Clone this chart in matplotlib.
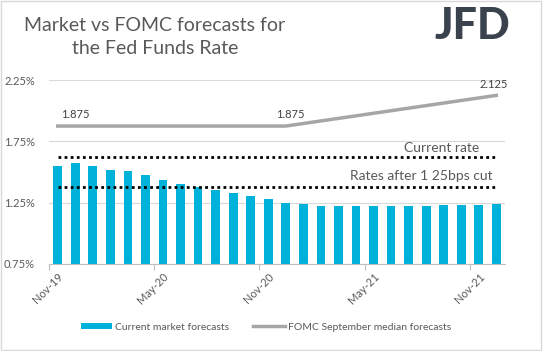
import matplotlib.pyplot as plt
import numpy as np
import pandas as pd
from matplotlib.patches import Rectangle

# Market-implied Fed Funds rate per month, Nov-19 .. Dec-21
months = pd.date_range("2019-11-01", "2021-12-01", freq="MS")
month_labels = [m.strftime("%b-%y") for m in months]
market = [1.551, 1.570, 1.551, 1.518, 1.510, 1.477, 1.436, 1.403, 1.381,
          1.354, 1.330, 1.305, 1.280, 1.250, 1.239, 1.223, 1.223, 1.223,
          1.223, 1.223, 1.223, 1.223, 1.231, 1.231, 1.231, 1.239]

# FOMC September median projections (year-end points)
fomc_idx = [0, 13, 25]
fomc_vals = [1.875, 1.875, 2.125]

current_rate = 1.625
after_cut = 1.375

BLUE = "#00B2DA"
GRAY_LINE = "#A6A6A6"
TEXT = "#595959"
GRID = "#D9D9D9"

plt.rcParams["font.family"] = ["Lato", "DejaVu Sans"]

fig = plt.figure(figsize=(5.43, 3.51), dpi=100)
fig.patches.append(Rectangle((0.002, 0.003), 0.995, 0.993, transform=fig.transFigure,
                             fill=False, edgecolor=GRID, linewidth=1.0))
ax = fig.add_axes([0.0902, 0.2479, 0.840, 0.524])

x = np.arange(len(market))
bars = ax.bar(x, market, width=0.5, color=BLUE, label="Current market forecasts", zorder=2)
line, = ax.plot(fomc_idx, fomc_vals, color=GRAY_LINE, linewidth=2.5,
                label="FOMC September median forecasts", zorder=3)
# data labels: the first one sits right of its point, like in Excel
label_dx = [13, 3, -2]
for i, v, dx in zip(fomc_idx, fomc_vals, label_dx):
    ax.annotate(f"{v:.3f}", (i, v), xytext=(dx, 4), textcoords="offset points",
                ha="center", va="bottom", fontsize=8, color="#404040", clip_on=False)

ax.hlines([current_rate, after_cut], 0, len(market) - 1, colors="black",
          linestyles=[(0, (1, 1.2))], linewidth=2, zorder=4)
ax.text(24.0, current_rate + 0.025, "Current rate", ha="right", va="bottom",
        fontsize=10, color=TEXT)
ax.text(24.8, after_cut + 0.04, "Rates after 1 25bps cut", ha="right", va="bottom",
        fontsize=10, color=TEXT)

ax.set_xlim(-0.5, len(market) - 0.5)
ax.set_ylim(0.75, 2.25)
ax.set_yticks([0.75, 1.25, 1.75, 2.25])
ax.set_yticklabels(["0.75%", "1.25%", "1.75%", "2.25%"])
ax.grid(axis="y", color=GRID, linewidth=0.8, zorder=0)
ax.set_axisbelow(True)

ax.set_xticks(x[::6])
ax.set_xticklabels(month_labels[::6], rotation=45, ha="right", rotation_mode="anchor")
ax.set_xticks(np.arange(-0.5, len(market), 6), minor=True)
ax.tick_params(axis="x", which="major", length=0, pad=5, labelsize=8, labelcolor=TEXT)
ax.tick_params(axis="x", which="minor", length=4, color="#BFBFBF", width=0.8)
ax.tick_params(axis="y", length=0, labelsize=8, labelcolor=TEXT, pad=10)

for s in ("top", "right", "left"):
    ax.spines[s].set_visible(False)
ax.spines["bottom"].set_color("#BFBFBF")
ax.spines["bottom"].set_linewidth(0.8)

fig.text(0.285, 0.895, "Market vs FOMC forecasts for\nthe Fed Funds Rate", ha="center",
         va="center", fontsize=14, color=TEXT, linespacing=1.4)
fig.text(0.94, 0.925, "JFD", ha="right", va="center", fontsize=31,
         fontweight="black", color="#3A434D")

fig.legend([bars, line], ["Current market forecasts", "FOMC September median forecasts"],
           loc="center", bbox_to_anchor=(0.49, 0.068), ncol=2, frameon=False,
           fontsize=7.5, handlelength=3.0, handleheight=0.6, columnspacing=2.3,
           handletextpad=0.3, labelcolor=TEXT)

fig.savefig("out.png", dpi=100)
